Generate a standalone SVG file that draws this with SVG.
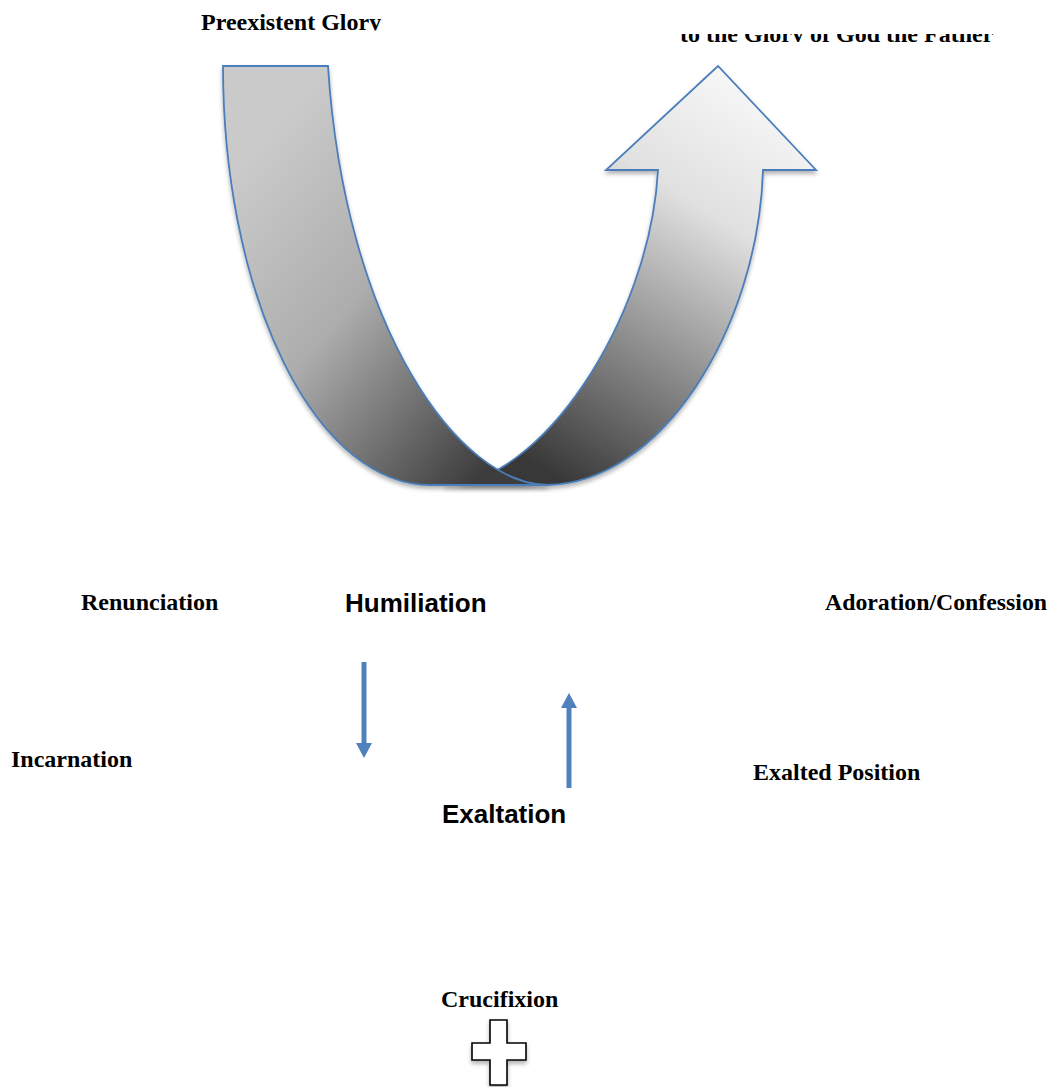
<svg xmlns="http://www.w3.org/2000/svg" width="1055" height="1087" viewBox="0 0 1055 1087">
<style>
.tr{font-family:"Liberation Serif","Times New Roman",serif;font-weight:bold;font-size:24px;fill:#000}
.ar{font-family:"Liberation Sans",Arial,sans-serif;font-weight:bold;font-size:26px;fill:#000}
.band{stroke:#4a7ebb;stroke-width:1.8;stroke-linejoin:miter}
.conn{stroke:#4f81bd;stroke-width:5;fill:none}
</style>
<defs>
<linearGradient id="gL" gradientUnits="userSpaceOnUse" x1="240" y1="170" x2="530" y2="420">
<stop offset="0" stop-color="#cacaca"/>
<stop offset="0.45" stop-color="#adadad"/>
<stop offset="1" stop-color="#3c3c3c"/>
</linearGradient>
<linearGradient id="gR" gradientUnits="userSpaceOnUse" x1="790" y1="110" x2="560" y2="480">
<stop offset="0" stop-color="#f7f7f7"/>
<stop offset="0.3" stop-color="#e0e0e0"/>
<stop offset="1" stop-color="#383838"/>
</linearGradient>
<filter id="sh" x="-10%" y="-10%" width="120%" height="120%">
<feDropShadow dx="0" dy="3" stdDeviation="2" flood-color="#000" flood-opacity="0.3"/>
</filter>
<marker id="ah" markerWidth="3" markerHeight="3.2" refX="0" refY="1.6" orient="auto" markerUnits="strokeWidth" viewBox="0 0 3 3.2" preserveAspectRatio="none">
<path d="M0,0 L3,1.6 L0,3.2 Z" fill="#4f81bd"/>
</marker>
<clipPath id="c1"><rect x="150" y="0" width="300" height="30.5"/></clipPath>
<clipPath id="c2"><rect x="650" y="34" width="380" height="8"/></clipPath>
</defs>

<g id="uturn-right" filter="url(#sh)">
<path class="band" fill="url(#gR)" d="M658,170 L606,170 L718,66 L816,170 L763,170 C758,330 660,484 547,485 L445,485 C540,485 650,320 658,170 Z"/>
</g>
<g id="uturn-left" filter="url(#sh)">
<path class="band" fill="url(#gL)" d="M223,66 L328,66 C345,330 460,485 548,485 L430,485 A207,419 0 0 1 223,66 Z"/>
</g>

<g id="preexistent-glory" clip-path="url(#c1)">
<text class="tr" x="201" y="30">Preexistent Glory</text>
</g>
<g id="glory-of-god" clip-path="url(#c2)">
<text class="tr" x="680" y="42">to the Glory of God the Father</text>
</g>
<g id="renunciation"><text class="tr" x="81" y="610">Renunciation</text></g>
<g id="humiliation"><text class="ar" x="345" y="612">Humiliation</text></g>
<g id="adoration"><text class="tr" x="825" y="610" textLength="222" lengthAdjust="spacingAndGlyphs">Adoration/Confession</text></g>
<g id="incarnation"><text class="tr" x="11" y="767">Incarnation</text></g>
<g id="exalted-position"><text class="tr" x="753" y="780">Exalted Position</text></g>
<g id="exaltation"><text class="ar" x="442" y="823">Exaltation</text></g>
<g id="crucifixion"><text class="tr" x="441" y="1007">Crucifixion</text></g>
<g id="cross" filter="url(#sh)">
<path d="M490,1020 L507,1020 L507,1043 L526,1043 L526,1060 L507,1060 L507,1085 L490,1085 L490,1060 L472,1060 L472,1043 L490,1043 Z" fill="#fff" stroke="#000" stroke-width="1.6"/>
</g>

<g id="connectors">
<line class="conn" x1="364" y1="662" x2="364" y2="743" marker-end="url(#ah)"/>
<line class="conn" x1="569" y1="788" x2="569" y2="708" marker-end="url(#ah)"/>
</g>
</svg>
